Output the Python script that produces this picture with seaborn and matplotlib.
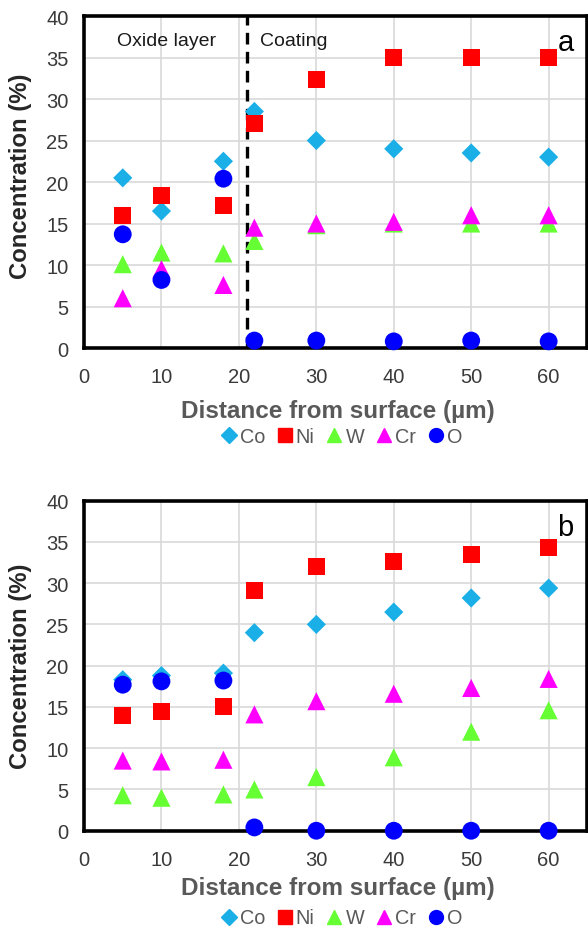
import matplotlib
matplotlib.use("Agg")
import matplotlib.pyplot as plt
import seaborn as sns
import numpy as np

sns.set_theme(style="white")
plt.rcParams['font.family'] = ['Liberation Sans', 'DejaVu Sans']

distance = [5, 10, 18, 22, 30, 40, 50, 60]

# Panel a
a_Co = [20.5, 16.5, 22.5, 28.5, 25.0, 24.0, 23.5, 23.0]
a_Ni = [16.0, 18.4, 17.2, 27.0, 32.3, 35.0, 35.0, 35.0]
a_W  = [10.1, 11.5, 11.4, 12.9, 14.8, 15.0, 15.0, 15.0]
a_Cr = [6.0, 9.5, 7.6, 14.5, 15.0, 15.2, 16.0, 16.0]
a_O  = [13.7, 8.2, 20.4, 0.9, 0.9, 0.8, 0.9, 0.8]

# Panel b
b_Co = [18.3, 18.8, 19.1, 24.0, 25.0, 26.5, 28.2, 29.4]
b_Ni = [14.0, 14.4, 15.1, 29.1, 32.0, 32.6, 33.5, 34.3]
b_W  = [4.3, 4.0, 4.4, 5.0, 6.5, 8.9, 12.0, 14.6]
b_Cr = [8.5, 8.4, 8.6, 14.1, 15.7, 16.6, 17.3, 18.4]
b_O  = [17.7, 18.1, 18.2, 0.4, 0.0, 0.0, 0.0, 0.0]

elements = ["Co", "Ni", "W", "Cr", "O"]
colors = {"Co": "#1AAFE6", "Ni": "#FF0000", "W": "#66FF33", "Cr": "#FF00FF", "O": "#0000FF"}
markers = {"Co": "D", "Ni": "s", "W": "^", "Cr": "^", "O": "o"}
sizes = {"Co": 95, "Ni": 150, "W": 170, "Cr": 170, "O": 165}

fig = plt.figure(figsize=(5.88, 9.29), dpi=100)
ax1 = fig.add_axes([0.1429, 0.6243, 0.856, 0.3574])
ax2 = fig.add_axes([0.1429, 0.1047, 0.856, 0.3553])

def draw(ax, data, letter, xlab_y, ylab_y, leg_y):
    ax.set_xlim(0, 65)
    ax.set_ylim(0, 40)
    ax.set_xticks([0, 10, 20, 30, 40, 50, 60])
    ax.set_yticks(np.arange(0, 41, 5))
    ax.grid(True, color="#d9d9d9", lw=1.2)
    ax.set_axisbelow(True)
    for sp in ax.spines.values():
        sp.set_color("black")
        sp.set_linewidth(2.6)
    ax.tick_params(axis="both", length=0, labelsize=14.5, colors="#3a3a3a")
    ax.tick_params(axis="x", pad=14)
    ax.tick_params(axis="y", pad=11)
    for el in elements:
        sns.scatterplot(x=distance, y=data[el], ax=ax, marker=markers[el],
                        color=colors[el], s=sizes[el], edgecolor="none",
                        label=el, legend=False, zorder=3, clip_on=False)
    xl = ax.set_xlabel("Distance from surface (\u00b5m)", fontsize=17.5, fontweight="bold",
                       color="#595959")
    ax.xaxis.set_label_coords(0.504, xlab_y)
    xl.set_va("center")
    yl = ax.set_ylabel("Concentration (%)", fontsize=17.2, fontweight="bold", color="#262626")
    ax.yaxis.set_label_coords(-0.127, ylab_y)
    yl.set_va("center")
    ax.text(62.2, 35.85, letter, fontsize=21, ha="center", va="baseline", color="black")
    handles = [plt.Line2D([], [], marker=markers[el], color=colors[el], ls="none",
                          markersize=10 if el != "Co" else 8) for el in elements]
    leg = fig.legend(handles, elements, ncol=5, frameon=False, fontsize=14.3,
                     loc="center", bbox_to_anchor=(0.578, leg_y),
                     handletextpad=0.0, columnspacing=0.45, handlelength=1.1,
                     borderpad=0.1)
    for t in leg.get_texts():
        t.set_color("#595959")

draw(ax1, {"Co": a_Co, "Ni": a_Ni, "W": a_W, "Cr": a_Cr, "O": a_O}, "a", -0.187, 0.52, 0.5296)
draw(ax2, {"Co": b_Co, "Ni": b_Ni, "W": b_W, "Cr": b_Cr, "O": b_O}, "b", -0.171, 0.502, 0.0108)

ax1.axvline(21, color="black", lw=2.4, ls=(0, (3.5, 2.2)), zorder=2)
ax1.text(10.6, 36.55, "Oxide layer", fontsize=14, ha="center", va="baseline", color="#1a1a1a")
ax1.text(22.7, 36.55, "Coating", fontsize=14, ha="left", va="baseline", color="#1a1a1a")

fig.savefig("out.png", dpi=100)
